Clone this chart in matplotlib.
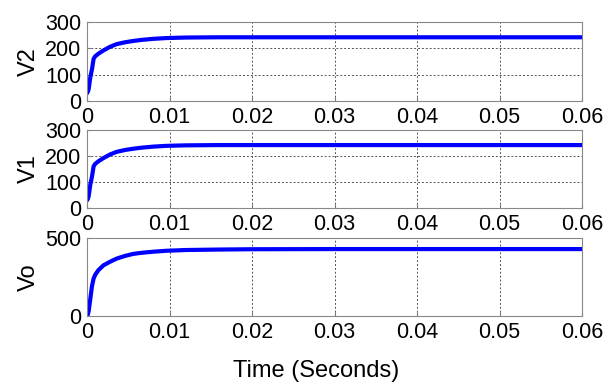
import numpy as np
import matplotlib.pyplot as plt

plt.rcParams['font.family'] = ['Liberation Sans', 'DejaVu Sans']

t = [0, 0.0001, 0.0002, 0.0004, 0.0006, 0.0008, 0.001, 0.0014, 0.002, 0.0028,
     0.0036, 0.0046, 0.0056, 0.0066, 0.008, 0.0096, 0.012, 0.016, 0.02, 0.03, 0.04, 0.05, 0.06]
v2 = [30, 35, 45, 90, 120, 160, 170, 180, 192, 206,
      216, 223, 228, 232, 236, 239, 241, 242, 242, 242, 242, 242, 242]
v1 = [30, 35, 45, 90, 120, 160, 170, 180, 192, 206,
      216, 223, 228, 232, 236, 239, 241, 242, 242, 242, 242, 242, 242]
vo = [0, 10, 30, 110, 190, 240, 265, 295, 325, 348,
      368, 385, 398, 405, 412, 418, 423, 426, 428, 429, 429, 429, 429]

xticks = [0, 0.01, 0.02, 0.03, 0.04, 0.05, 0.06]
xticklabels = ["0", "0.01", "0.02", "0.03", "0.04", "0.05", "0.06"]

fig = plt.figure(figsize=(6.03, 3.85), dpi=100)
W, H = 603, 385
boxes = [(87, 22, 101), (87, 130, 208), (87, 238, 316)]
series = [("V2", v2, 300, [0, 100, 200, 300]),
          ("V1", v1, 300, [0, 100, 200, 300]),
          ("Vo", vo, 500, [0, 500])]

for (x0, top, bot), (name, vals, ymax, yt) in zip(boxes, series):
    ax = fig.add_axes([x0 / W, 1 - bot / H, (582 - x0) / W, (bot - top) / H])
    ax.plot(t, vals, color="#0000ff", lw=3, solid_joinstyle="round")
    ax.set_xlim(0, 0.06)
    ax.set_ylim(0, ymax)
    ax.set_xticks(xticks)
    ax.set_xticklabels(xticklabels)
    ax.set_yticks(yt)
    ax.grid(True, linestyle=(0, (2, 2)), color="#555555", lw=0.7)
    ax.tick_params(direction="in", labelsize=15.5, length=3, color="#777777", pad=4)
    for s in ax.spines.values():
        s.set_color("#888888")
    ax.set_ylabel(name, fontsize=17, labelpad=4)

fig.text(316 / W, 1 - 371 / H, "Time (Seconds)", ha="center", va="center", fontsize=17)

plt.savefig("out.png", dpi=100)
